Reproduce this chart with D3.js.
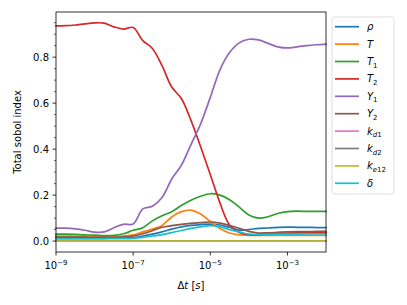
<!DOCTYPE html>
<html>
<head>
<meta charset="utf-8">
<script src="https://cdn.jsdelivr.net/npm/d3@7"></script>
<style>
body { margin: 0; background: #fff; }
text { font-family: "DejaVu Sans", sans-serif; }
</style>
</head>
<body>
<div id="chart"></div>
<script>
// time step values (s)
var dt = [1e-9, 1.78e-9, 3.16e-9, 5.62e-9, 1e-8, 1.78e-8, 3.16e-8, 5.62e-8,
          1e-7, 1.78e-7, 3.16e-7, 5.62e-7, 1e-6, 1.78e-6, 3.16e-6, 5.62e-6,
          1e-5, 1.78e-5, 3.16e-5, 5.62e-5, 1e-4, 1.78e-4, 3.16e-4, 5.62e-4,
          1e-3, 1.78e-3, 3.16e-3, 5.62e-3, 1e-2];

// total sobol index for each parameter
var rho  = [0.013,0.013,0.013,0.013,0.013,0.013,0.013,0.013,0.015,0.022,0.030,0.040,0.052,0.062,0.068,0.072,0.074,0.070,0.060,0.048,0.050,0.055,0.057,0.060,0.061,0.060,0.060,0.059,0.059];
var T    = [0.022,0.022,0.021,0.021,0.020,0.020,0.020,0.022,0.027,0.040,0.052,0.068,0.105,0.128,0.135,0.118,0.085,0.055,0.035,0.027,0.025,0.025,0.025,0.025,0.025,0.025,0.025,0.025,0.025];
var T1   = [0.030,0.030,0.029,0.027,0.026,0.024,0.025,0.032,0.047,0.058,0.088,0.110,0.128,0.155,0.178,0.195,0.206,0.200,0.180,0.148,0.114,0.100,0.106,0.120,0.128,0.130,0.129,0.129,0.129];
var T2   = [0.936,0.937,0.940,0.945,0.949,0.948,0.932,0.922,0.929,0.872,0.838,0.763,0.670,0.620,0.525,0.410,0.290,0.166,0.070,0.037,0.028,0.027,0.030,0.033,0.035,0.036,0.037,0.037,0.037];
var Y1   = [0.056,0.056,0.053,0.047,0.039,0.040,0.058,0.073,0.074,0.140,0.152,0.190,0.270,0.330,0.420,0.510,0.625,0.745,0.820,0.862,0.878,0.875,0.860,0.845,0.840,0.845,0.850,0.854,0.857];
var Y2   = [0.017,0.017,0.017,0.017,0.016,0.016,0.016,0.018,0.022,0.032,0.045,0.060,0.067,0.073,0.077,0.080,0.083,0.078,0.068,0.056,0.042,0.035,0.036,0.038,0.040,0.041,0.041,0.042,0.042];
var kd1  = [0,0,0,0,0,0,0,0,0,0,0,0,0,0,0,0,0,0,0,0,0,0,0,0,0,0,0,0,0];
var kd2  = [0,0,0,0,0,0,0,0,0,0,0,0,0,0,0,0,0,0,0,0,0,0,0,0,0,0,0,0,0];
var ke12 = [0,0,0,0,0,0,0,0,0,0,0,0,0,0,0,0,0,0,0,0,0,0,0,0,0,0,0,0,0];
var delta= [0.010,0.010,0.010,0.010,0.010,0.010,0.011,0.011,0.012,0.016,0.022,0.028,0.037,0.046,0.055,0.062,0.067,0.062,0.050,0.040,0.030,0.028,0.029,0.030,0.030,0.030,0.031,0.031,0.031];

// legend labels: [main, subscript]
var labels = [["ρ",""],["T",""],["T","1"],["T","2"],["Y","1"],["Y","2"],["k","d1"],["k","d2"],["k","e12"],["δ",""]];
var seriesData = [rho, T, T1, T2, Y1, Y2, kd1, kd2, ke12, delta];
var colors = ["#1f77b4","#ff7f0e","#2ca02c","#d62728","#9467bd","#8c564b","#e377c2","#7f7f7f","#bcbd22","#17becf"];

var xTicks = [1e-9, 1e-7, 1e-5, 1e-3];
var xTickLabels = ["−9", "−7", "−5", "−3"];
var yTicks = [0, 0.2, 0.4, 0.6, 0.8];

var svgWidth = 407, svgHeight = 305;
var margin = {top: 12, right: 81, bottom: 53, left: 56};
var width = svgWidth - margin.left - margin.right;
var height = svgHeight - margin.top - margin.bottom;

var svg = d3.select("#chart").append("svg")
    .attr("width", svgWidth)
    .attr("height", svgHeight);

var g = svg.append("g").attr("transform", `translate(${margin.left},${margin.top})`);

// matplotlib style 5% margins on y
var allVals = [].concat.apply([], seriesData);
var yMin = d3.min(allVals), yMax = d3.max(allVals);
var pad = (yMax - yMin) * 0.05;

var x = d3.scaleLog().domain([1e-9, 1e-2]).range([0, width]);
var y = d3.scaleLinear().domain([yMin - pad, yMax + pad]).range([height, 0]);

// lines
var line = d3.line()
    .x(function(d, i) { return x(dt[i]); })
    .y(function(d) { return y(d); })
    .curve(d3.curveCatmullRom.alpha(0.5));

var plot = g.append("g");
seriesData.forEach(function(s, k) {
    plot.append("path")
        .attr("d", line(s))
        .attr("fill", "none")
        .attr("stroke", colors[k])
        .attr("stroke-width", 1.7)
        .attr("stroke-linejoin", "round")
        .attr("stroke-linecap", "square");
});

// x axis
var xAxis = g.append("g").attr("transform", `translate(0,${height})`);
xTicks.forEach(function(t, i) {
    xAxis.append("line").attr("x1", x(t)).attr("x2", x(t)).attr("y1", 0).attr("y2", 3.5)
        .attr("stroke", "#000").attr("stroke-width", 0.8);
    var tx = xAxis.append("text").attr("x", x(t)).attr("y", 17)
        .attr("text-anchor", "middle").attr("font-size", 10).attr("fill", "#000");
    tx.append("tspan").text("10");
    tx.append("tspan").attr("dy", -4.5).attr("font-size", 7).text(xTickLabels[i]);
});

// y axis
var yAxis = g.append("g");
yTicks.forEach(function(t) {
    yAxis.append("line").attr("x1", -3.5).attr("x2", 0).attr("y1", y(t)).attr("y2", y(t))
        .attr("stroke", "#000").attr("stroke-width", 0.8);
    yAxis.append("text").attr("x", -7).attr("y", y(t)).attr("dy", "0.35em")
        .attr("text-anchor", "end").attr("font-size", 10).attr("fill", "#000")
        .text(d3.format(".1f")(t));
});
d3.range(1, 20).forEach(function(j) {
    var v = j * 0.05;
    if (j % 4 === 0 || v > y.domain()[1]) return;
    yAxis.append("line").attr("x1", -2).attr("x2", 0).attr("y1", y(v)).attr("y2", y(v))
        .attr("stroke", "#000").attr("stroke-width", 0.6);
});

// frame
g.append("rect").attr("width", width).attr("height", height)
    .attr("fill", "none").attr("stroke", "#000").attr("stroke-width", 0.8);

// axis labels
var xl = svg.append("text")
    .attr("x", margin.left + width / 2).attr("y", 289)
    .attr("text-anchor", "middle").attr("font-size", 10);
xl.append("tspan").text("Δ");
xl.append("tspan").attr("font-style", "italic").text("t");
xl.append("tspan").text(" [");
xl.append("tspan").attr("font-style", "italic").text("s");
xl.append("tspan").text("]");

svg.append("text")
    .attr("transform", `translate(21,${margin.top + height / 2}) rotate(-90)`)
    .attr("text-anchor", "middle").attr("font-size", 10)
    .text("Total sobol index");

// legend
var legend = svg.append("g").attr("transform", "translate(332,17)");
legend.append("rect").attr("width", 62).attr("height", 177).attr("rx", 2.5)
    .attr("fill", "#fff").attr("fill-opacity", 0.8)
    .attr("stroke", "#d5d5d5").attr("stroke-width", 0.8);
labels.forEach(function(lab, i) {
    var ly = 9.7 + i * 17.4;
    legend.append("line").attr("x1", 3).attr("x2", 27).attr("y1", ly).attr("y2", ly)
        .attr("stroke", colors[i]).attr("stroke-width", 1.7);
    var t = legend.append("text").attr("x", 35).attr("y", ly + 3.5).attr("font-size", 10);
    t.append("tspan").attr("font-style", "italic").text(lab[0]);
    if (lab[1]) {
        var sub = lab[1];
        var letters = sub.replace(/[0-9]/g, "");
        var digits = sub.replace(/[^0-9]/g, "");
        if (letters) t.append("tspan").attr("dy", 2.5).attr("font-size", 7)
            .attr("font-style", "italic").text(letters);
        t.append("tspan").attr("dy", letters ? 0 : 2.5).attr("font-size", 7).text(digits);
    }
});
</script>
</body>
</html>
